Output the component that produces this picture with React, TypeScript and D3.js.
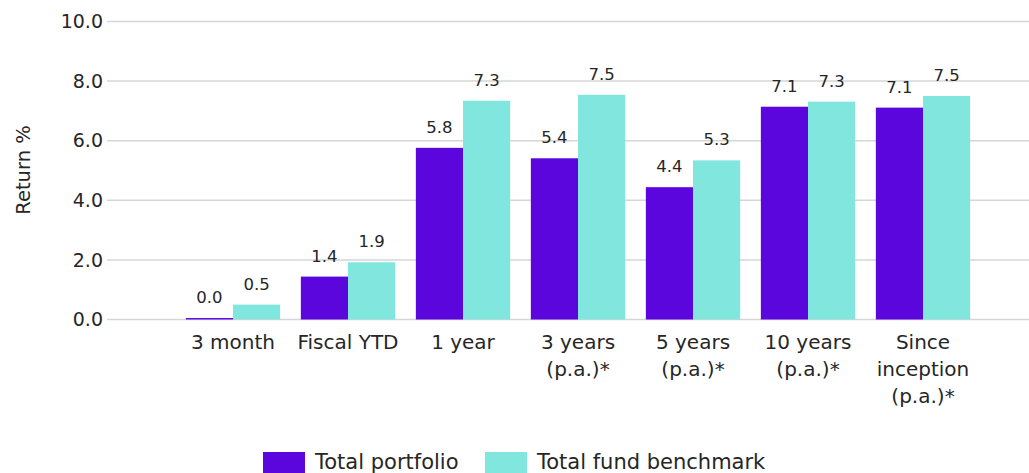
import React from "react";
import * as d3 from "d3";

const categories: string[][] = [
  ["3 month"],
  ["Fiscal YTD"],
  ["1 year"],
  ["3 years", "(p.a.)*"],
  ["5 years", "(p.a.)*"],
  ["10 years", "(p.a.)*"],
  ["Since", "inception", "(p.a.)*"],
];
const portfolio = [0.049, 1.44, 5.76, 5.41, 4.44, 7.14, 7.11];
const benchmark = [0.5, 1.92, 7.34, 7.54, 5.34, 7.31, 7.5];
const yTicks = [0, 2, 4, 6, 8, 10];
const seriesNames = ["Total portfolio", "Total fund benchmark"];
const colors = ["#5C06DE", "#80E6DE"];

const W = 1029;
const H = 473;
const FONT = "'DejaVu Sans', sans-serif";

export default function App() {
  const keys = categories.map((c) => c.join(" "));
  const x = d3.scaleBand<string>().domain(keys).range([175.5, 980.5]).paddingInner(0.18).paddingOuter(0.09);
  const xs = d3.scaleBand<number>().domain([0, 1]).range([0, x.bandwidth()]);
  const y = d3.scaleLinear().domain([0, 10]).range([319.5, 21.5]);
  const fmt = d3.format(".1f");
  const series = [portfolio, benchmark];

  return (
    <svg width={W} height={H} style={{ position: "absolute", left: 0, top: 0, background: "#fff" }} fontFamily={FONT}>
      {yTicks.map((t) => (
        <g key={t}>
          <line x1={107} x2={W} y1={y(t)} y2={y(t)} stroke="#d6d6d6" strokeWidth={1.5} />
          <text x={103} y={y(t)} dy="0.35em" textAnchor="end" fontSize={19} fill="#262626">
            {fmt(t)}
          </text>
        </g>
      ))}
      <text transform={`translate(30,170) rotate(-90)`} textAnchor="middle" fontSize={19.5} fill="#262626">
        Return %
      </text>
      {series.map((vals, si) =>
        vals.map((v, i) => {
          const bx = (x(keys[i]) as number) + (xs(si) as number);
          const bw = xs.bandwidth();
          return (
            <g key={`${si}-${i}`}>
              <rect x={bx} y={y(v)} width={bw} height={y(0) - y(v)} fill={colors[si]} />
              <text x={bx + bw / 2} y={y(v) - 15} textAnchor="middle" fontSize={16.5} fill="#262626">
                {fmt(v)}
              </text>
            </g>
          );
        })
      )}
      {categories.map((lines, i) => (
        <text key={i} x={(x(keys[i]) as number) + x.bandwidth() / 2} textAnchor="middle" fontSize={20} fill="#262626">
          {lines.map((l, j) => (
            <tspan key={j} x={(x(keys[i]) as number) + x.bandwidth() / 2} y={349 + j * 27}>
              {l}
            </tspan>
          ))}
        </text>
      ))}
      {seriesNames.map((n, i) => {
        const lx = [263, 485][i];
        return (
          <g key={n}>
            <rect x={lx} y={452} width={42} height={24} fill={colors[i]} />
            <text x={lx + 52} y={469} fontSize={21} fill="#262626">
              {n}
            </text>
          </g>
        );
      })}
    </svg>
  );
}
